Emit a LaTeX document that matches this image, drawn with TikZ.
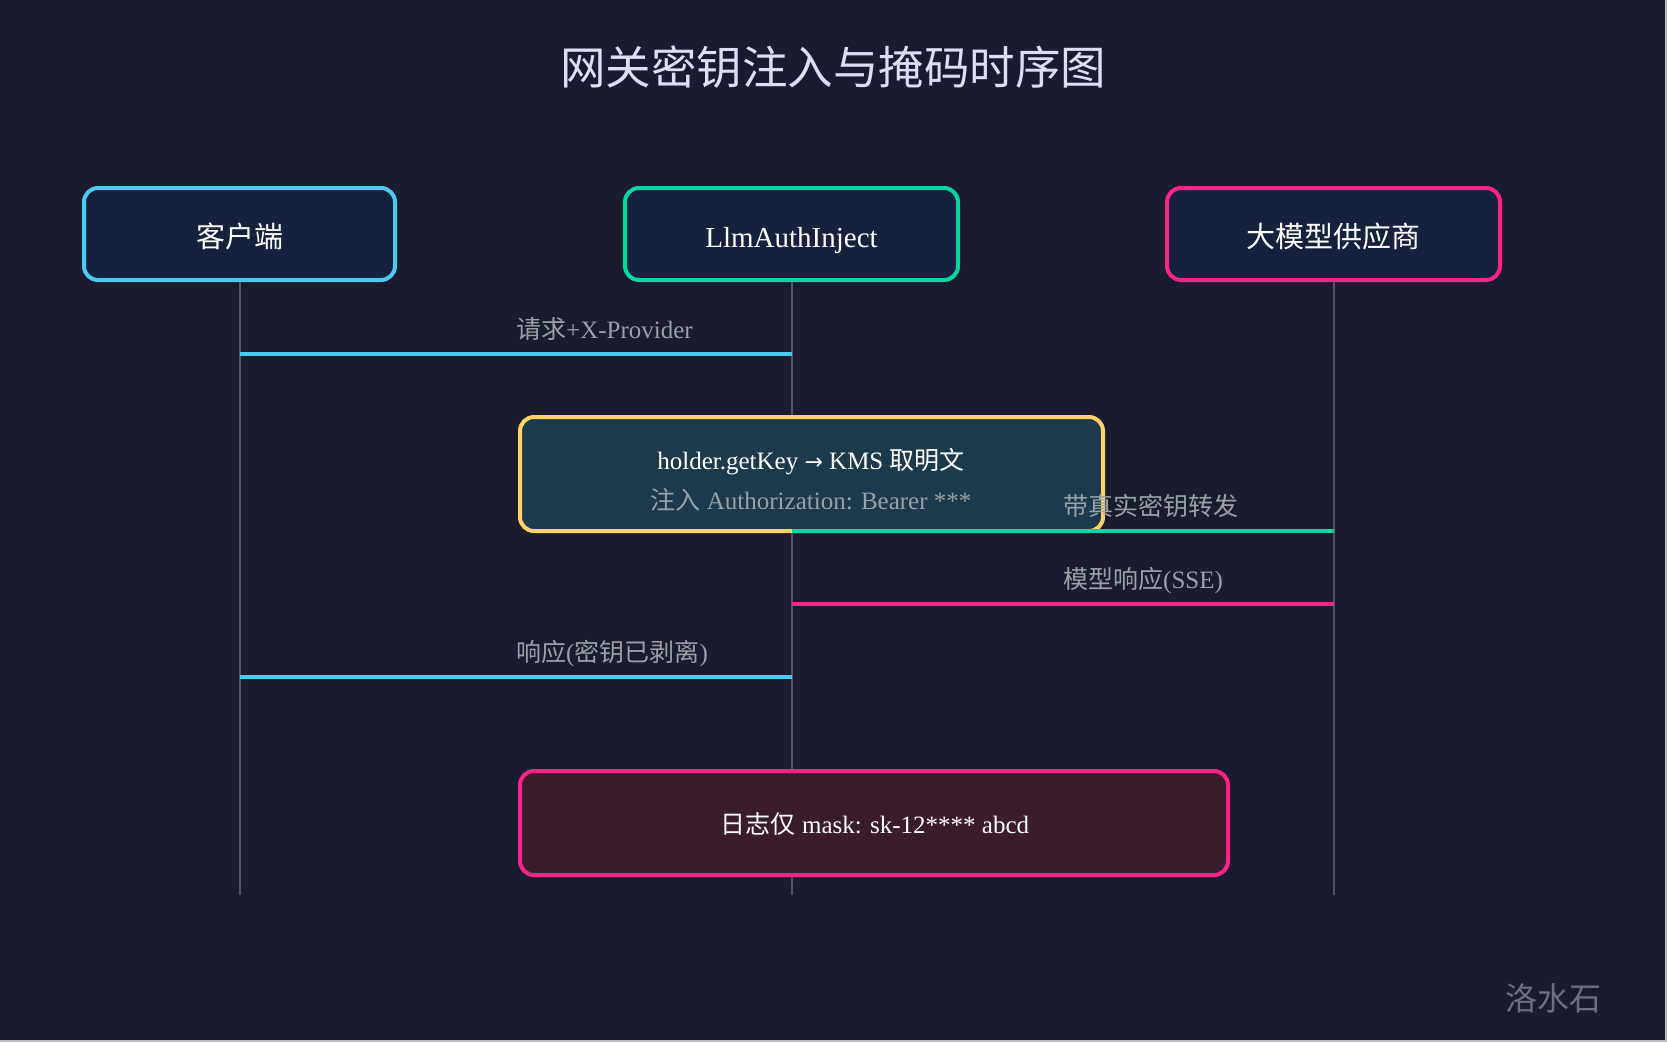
\documentclass[tikz,border=0pt]{standalone}
\usepackage{fontspec}
\setmainfont{Liberation Serif}
\newfontfamily\cjk{Noto Sans CJK SC}
\newfontfamily\dejavu{DejaVu Sans}
\definecolor{bg}{HTML}{1A1B2E}
\definecolor{pfill}{HTML}{16213E}
\definecolor{ccyan}{HTML}{4CC9F0}
\definecolor{cgreen}{HTML}{06D6A0}
\definecolor{cpink}{HTML}{F72585}
\definecolor{cyel}{HTML}{FFD166}
\definecolor{yfill}{HTML}{1D3A4D}
\definecolor{lfill}{HTML}{3B1C2D}
\definecolor{lblgray}{HTML}{96A2A6}
\definecolor{lifec}{HTML}{505361}
\definecolor{titlec}{HTML}{DDDDF5}
\definecolor{wmark}{HTML}{6E6E80}
\definecolor{edgec}{HTML}{B8B8C0}
\begin{document}
\begin{tikzpicture}[x=1pt,y=-1pt,
  actorbox/.style={draw, line width=4pt, fill=pfill, rounded corners=14pt, minimum height=92pt, inner sep=0pt},
  notebox/.style={draw, line width=4pt, rounded corners=14pt, inner sep=0pt},
  actortext/.style={anchor=base, text=white, font=\fontsize{29}{33}\selectfont, inner sep=0pt},
  msglabel/.style={anchor=base west, text=lblgray, font=\fontsize{25}{29}\selectfont, inner sep=0pt},
  notetext/.style={anchor=base, font=\fontsize{25}{29}\selectfont, inner sep=0pt},
  lifeline/.style={draw=lifec, line width=2pt},
  msg/.style={line width=3.5pt}
]
\useasboundingbox (0,0) rectangle (1667,1042);
\fill[bg] (0,0) rectangle (1667,1042);
\draw[edgec, line width=2pt] (1666,0) -- (1666,1041) -- (0,1041);

% title
\node[anchor=base, text=titlec, font=\cjk\fontsize{45.5}{50}\selectfont, inner sep=0pt] (title) at (833,84) {网关密钥注入与掩码时序图};

% participants
\node[actorbox, draw=ccyan, minimum width=311pt] (client) at (239.5,234) {};
\node[actorbox, draw=cgreen, minimum width=333pt] (inject) at (791.5,234) {};
\node[actorbox, draw=cpink, minimum width=333pt] (provider) at (1333.5,234) {};
\node[actortext] (clientt) at (239.5,247) {\cjk 客户端};
\node[actortext] (injectt) at (791.5,247) {LlmAuthInject};
\node[actortext] (providert) at (1333.5,247) {\cjk 大模型供应商};

% lifelines
\coordinate (clientend) at (239.5,895);
\coordinate (injectend) at (791.5,895);
\coordinate (providerend) at (1333.5,895);
\draw[lifeline] (client.south) -- (clientend);
\draw[lifeline] (inject.south) -- (injectend);
\draw[lifeline] (provider.south) -- (providerend);

% notes
\node[notebox, draw=cyel, fill=yfill, minimum width=583pt, minimum height=114pt] (kms) at (811.5,474) {};
\node[notetext, text=white] (kms1) at (811,469) {holder.getKey {\dejavu\fontsize{22}{26}\selectfont →} KMS {\cjk 取明文}};
\node[notetext, text=lblgray] (kms2) at (811,509) {{\cjk 注入} Authorization: Bearer ***};

\node[notebox, draw=cpink, fill=lfill, minimum width=708pt, minimum height=104pt] (logbox) at (874,823) {};
\node[notetext, text=white] (logt) at (875,833) {{\cjk 日志仅} mask: sk-12**** abcd};

% messages
\coordinate (m1a) at (239.5,354); \coordinate (m1b) at (791.5,354);
\coordinate (m2a) at (791.5,531); \coordinate (m2b) at (1333.5,531);
\coordinate (m3a) at (1333.5,604); \coordinate (m3b) at (791.5,604);
\coordinate (m4a) at (791.5,677); \coordinate (m4b) at (239.5,677);
\draw[msg, ccyan] (m1a) -- (m1b);
\draw[msg, cgreen] (m2a) -- (m2b);
\draw[msg, cpink] (m3a) -- (m3b);
\draw[msg, ccyan] (m4a) -- (m4b);
\node[msglabel] (l1) at (516,338) {{\cjk 请求}+X-Provider};
\node[msglabel] (l2) at (1063,515) {\cjk 带真实密钥转发};
\node[msglabel] (l3) at (1063,588) {{\cjk 模型响应}(SSE)};
\node[msglabel] (l4) at (516,661) {{\cjk 响应}({\cjk 密钥已剥离})};

% watermark
\node[anchor=base west, text=wmark, font=\cjk\fontsize{32}{36}\selectfont, inner sep=0pt] (wm) at (1505,1010) {洛水石};
\end{tikzpicture}
\end{document}
